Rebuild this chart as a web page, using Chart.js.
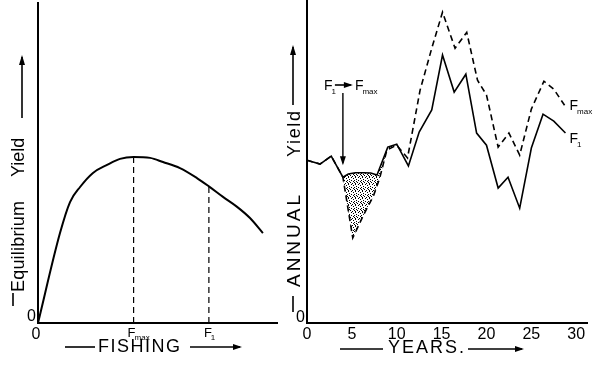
<!DOCTYPE html>
<html>
<head>
<meta charset="utf-8">
<script src="https://cdn.jsdelivr.net/npm/chart.js@4/dist/chart.umd.min.js"></script>
<style>
  html, body { margin: 0; padding: 0; background: #fff; }
  #wrap { position: relative; width: 600px; height: 370px; overflow: hidden; }
  #left { position: absolute; left: 0; top: 0; }
  #right { position: absolute; left: 270px; top: 0; }
</style>
</head>
<body>
<div id="wrap">
  <canvas id="left" width="290" height="370"></canvas>
  <canvas id="right" width="330" height="370"></canvas>
</div>
<script>
// left panel: equilibrium yield vs fishing
const fishing = [0, 0.92, 1.34, 1.76, 2.30, 2.89, 3.43, 4.0, 4.69, 5.23, 5.94, 6.65, 7.15, 7.74, 8.33, 8.87, 9.41]
const eqYield = [0, 2.81, 3.78, 4.25, 4.69, 4.94, 5.13, 5.19, 5.16, 5.03, 4.84, 4.53, 4.27, 3.94, 3.63, 3.28, 2.81]
const fmaxAt = 4.0
const f1At = 7.15

// right panel: annual yield over years
const yearsF1 = [0, 1.45, 2.7, 4.0, 4.6, 5.4, 6.3, 7.1, 7.8, 9.0, 10.0, 11.3, 12.5, 13.9, 15.1, 16.4, 17.7, 18.9, 20.0, 21.3, 22.4, 23.7, 25.0, 26.3, 27.5, 28.8]
const yieldF1 = [50.9, 49.7, 52.2, 45.6, 46.6, 47.0, 47.0, 46.9, 46.3, 55.0, 55.9, 49.1, 59.7, 66.6, 83.8, 72.2, 77.8, 59.4, 55.6, 42.2, 45.6, 35.9, 54.7, 65.3, 63.1, 59.4]
const yearsFmax = [0, 1.45, 2.7, 4.0, 5.1, 6.3, 7.4, 8.1, 8.9, 10.0, 11.2, 12.6, 13.9, 15.1, 16.5, 17.8, 19.0, 20.0, 21.3, 22.5, 23.7, 25.0, 26.4, 27.5, 28.7]
const yieldFmax = [50.9, 49.7, 52.2, 45.6, 26.6, 33.8, 39.7, 45.3, 54.1, 55.6, 51.6, 72.8, 85.9, 97.2, 85.9, 90.9, 75.9, 71.3, 55.0, 59.4, 52.5, 66.9, 75.6, 73.1, 68.1]
const yearTicks = [0, 5, 10, 15, 20, 25, 30]
const switchYear = 4.0

const FONT = "'Liberation Sans', Arial, sans-serif"

function pts(xs, ys) {
  return xs.map((x, i) => ({ x: x, y: ys[i] }))
}

function stipple() {
  const c = document.createElement("canvas")
  c.width = 7
  c.height = 7
  const g = c.getContext("2d")
  g.fillStyle = "#000"
  const dots = [[0, 0], [3, 0], [5, 1], [1, 2], [4, 2], [6, 3], [2, 4], [0, 5], [4, 5], [2, 6], [6, 6], [1, 1]]
  dots.forEach(([x, y]) => g.fillRect(x, y, 1, 1))
  return g.createPattern(c, "repeat")
}

// "F" with a small subscript
function drawF(ctx, x, y, sub, size) {
  ctx.save()
  ctx.fillStyle = "#000"
  ctx.textAlign = "left"
  ctx.textBaseline = "alphabetic"
  ctx.font = size + "px " + FONT
  ctx.fillText("F", x, y)
  const w = ctx.measureText("F").width
  ctx.font = Math.round(size * 0.6) + "px " + FONT
  ctx.fillText(sub, x + w - 1, y + size * 0.25)
  ctx.restore()
}

// text stretched by letter spacing to a given width
function fitText(ctx, text, size, width) {
  ctx.font = size + "px " + FONT
  ctx.letterSpacing = "0px"
  const w = ctx.measureText(text).width
  const sp = Math.max(0, (width - w) / (text.length - 1))
  ctx.letterSpacing = sp + "px"
}

function spaced(ctx, text, x, y, size, width) {
  ctx.save()
  ctx.fillStyle = "#000"
  fitText(ctx, text, size, width)
  ctx.textBaseline = "middle"
  ctx.textAlign = "left"
  ctx.fillText(text, x, y)
  ctx.restore()
}

function hline(ctx, x1, x2, y, head) {
  ctx.save()
  ctx.strokeStyle = "#000"
  ctx.fillStyle = "#000"
  ctx.lineWidth = 1.6
  ctx.beginPath()
  ctx.moveTo(x1, y)
  ctx.lineTo(x2, y)
  ctx.stroke()
  if (head) {
    ctx.beginPath()
    ctx.moveTo(x2 + 2, y)
    ctx.lineTo(x2 - 7, y - 3)
    ctx.lineTo(x2 - 7, y + 3)
    ctx.closePath()
    ctx.fill()
  }
  ctx.restore()
}

// vertical axis title: dash, words (y = bottom end of word), arrow going up
function vtitle(ctx, x, parts, dash, arrow) {
  ctx.save()
  ctx.fillStyle = "#000"
  ctx.strokeStyle = "#000"
  ctx.lineWidth = 1.6
  ctx.beginPath()
  ctx.moveTo(dash.x, dash.y1)
  ctx.lineTo(dash.x, dash.y2)
  ctx.stroke()
  parts.forEach(p => {
    ctx.save()
    ctx.translate(x, p.y)
    ctx.rotate(-Math.PI / 2)
    fitText(ctx, p.text, p.size, p.width)
    ctx.textAlign = "left"
    ctx.textBaseline = "middle"
    ctx.fillText(p.text, 0, 0)
    ctx.restore()
  })
  ctx.beginPath()
  ctx.moveTo(arrow.x, arrow.y1)
  ctx.lineTo(arrow.x, arrow.y2)
  ctx.stroke()
  ctx.beginPath()
  ctx.moveTo(arrow.x, arrow.y2 - 2)
  ctx.lineTo(arrow.x - 3, arrow.y2 + 8)
  ctx.lineTo(arrow.x + 3, arrow.y2 + 8)
  ctx.closePath()
  ctx.fill()
  ctx.restore()
}

const leftText = {
  id: "leftText",
  afterDraw(chart) {
    const ctx = chart.ctx
    const xs = chart.scales.x
    const ax = xs.getPixelForValue(fmaxAt)
    const bx = xs.getPixelForValue(f1At)
    drawF(ctx, ax - 6, 337, "max", 13)
    drawF(ctx, bx - 5, 337, "1", 13)
    hline(ctx, 65, 95, 347, false)
    spaced(ctx, "FISHING", 98, 347, 18, 82)
    hline(ctx, 190, 240, 347, true)
    vtitle(ctx, 19, [
      { text: "Equilibrium", y: 292, size: 18, width: 91 },
      { text: "Yield", y: 177, size: 18, width: 34 }
    ], { x: 13, y1: 293, y2: 306 }, { x: 22, y1: 118, y2: 57 })
  }
}

const rightText = {
  id: "rightText",
  afterDraw(chart) {
    const ctx = chart.ctx
    const xs = chart.scales.x
    const ys = chart.scales.y
    const off = 270
    hline(ctx, 340 - off, 383 - off, 349, false)
    spaced(ctx, "YEARS.", 388 - off, 348, 18, 76)
    hline(ctx, 468 - off, 522 - off, 349, true)
    vtitle(ctx, 295 - off, [
      { text: "ANNUAL", y: 287, size: 19, width: 92 },
      { text: "Yield", y: 157, size: 18, width: 46 }
    ], { x: 293 - off, y1: 296, y2: 312 }, { x: 293 - off, y1: 105, y2: 47 })

    // switch annotation
    const sx = xs.getPixelForValue(switchYear)
    drawF(ctx, sx - 19, 90, "1", 14)
    hline(ctx, sx - 8, sx + 8, 85, true)
    drawF(ctx, sx + 12, 90, "max", 14)
    ctx.save()
    ctx.strokeStyle = "#000"
    ctx.fillStyle = "#000"
    ctx.lineWidth = 1.4
    const tip = ys.getPixelForValue(yieldF1[yearsF1.indexOf(switchYear)]) - 14
    ctx.beginPath()
    ctx.moveTo(sx, 93)
    ctx.lineTo(sx, tip)
    ctx.stroke()
    ctx.beginPath()
    ctx.moveTo(sx, tip + 2)
    ctx.lineTo(sx - 3, tip - 7)
    ctx.lineTo(sx + 3, tip - 7)
    ctx.closePath()
    ctx.fill()
    ctx.restore()

    // series end labels
    const lastM = yearsFmax.length - 1
    const lastF = yearsF1.length - 1
    drawF(ctx, xs.getPixelForValue(yearsFmax[lastM]) + 5, ys.getPixelForValue(yieldFmax[lastM]) + 5, "max", 14)
    drawF(ctx, xs.getPixelForValue(yearsF1[lastF]) + 4, ys.getPixelForValue(yieldF1[lastF]) + 10, "1", 14)
  }
}

const tickFont = { family: FONT, size: 16 }
// fixed axis boxes so the plot area lands where the figure has it
const fitY = s => { s.width = 30; s.paddingTop = 0; s.paddingBottom = 0 }
const fitX = s => { s.height = 30; s.paddingLeft = 0; s.paddingRight = 0 }
const noGrid = { display: false, drawTicks: false }

new Chart(document.getElementById("left"), {
  type: "line",
  data: {
    datasets: [
      {
        data: pts(fishing, eqYield),
        borderColor: "#000",
        borderWidth: 2,
        pointRadius: 0,
        cubicInterpolationMode: "monotone"
      },
      {
        data: pts([fmaxAt, fmaxAt], [0, eqYield[fishing.indexOf(fmaxAt)]]),
        borderColor: "#000",
        borderWidth: 1.2,
        borderDash: [6, 4],
        pointRadius: 0
      },
      {
        data: pts([f1At, f1At], [0, eqYield[fishing.indexOf(f1At)]]),
        borderColor: "#000",
        borderWidth: 1.2,
        borderDash: [6, 4],
        pointRadius: 0
      }
    ]
  },
  options: {
    responsive: false,
    animation: false,
    layout: { padding: { left: 8, right: 13, top: 3, bottom: 17 } },
    plugins: { legend: { display: false }, tooltip: { enabled: false } },
    scales: {
      x: {
        type: "linear",
        min: 0,
        max: 10,
        grid: noGrid,
        border: { display: true, color: "#000", width: 2 },
        afterFit: fitX,
        afterBuildTicks: s => { s.ticks = [{ value: 0 }] },
        ticks: { color: "#000", font: tickFont, padding: 2, labelOffset: -2, maxRotation: 0 }
      },
      y: {
        min: 0,
        max: 10,
        grid: noGrid,
        border: { display: true, color: "#000", width: 2 },
        afterFit: fitY,
        afterBuildTicks: s => { s.ticks = [{ value: 0 }] },
        ticks: { color: "#000", font: tickFont, padding: 2, labelOffset: -6 }
      }
    }
  },
  plugins: [leftText]
})

new Chart(document.getElementById("right"), {
  type: "line",
  data: {
    datasets: [
      {
        data: pts(yearsF1, yieldF1),
        borderColor: "#000",
        borderWidth: 1.6,
        pointRadius: 0,
        tension: 0
      },
      {
        data: pts(yearsFmax, yieldFmax),
        borderColor: "#000",
        borderWidth: 1.6,
        borderDash: [6, 4],
        pointRadius: 0,
        tension: 0,
        fill: { target: 0, above: "rgba(0,0,0,0)", below: stipple() }
      }
    ]
  },
  options: {
    responsive: false,
    animation: false,
    layout: { padding: { left: 7, right: 13, top: 0, bottom: 17 } },
    plugins: { legend: { display: false }, tooltip: { enabled: false } },
    scales: {
      x: {
        type: "linear",
        min: 0,
        max: 31.2,
        grid: noGrid,
        border: { display: true, color: "#000", width: 2 },
        afterFit: fitX,
        afterBuildTicks: s => { s.ticks = yearTicks.map(v => ({ value: v })) },
        ticks: { color: "#000", font: tickFont, padding: 2, maxRotation: 0, autoSkip: false }
      },
      y: {
        min: 0,
        max: 101,
        grid: noGrid,
        border: { display: true, color: "#000", width: 2 },
        afterFit: fitY,
        afterBuildTicks: s => { s.ticks = [{ value: 0 }] },
        ticks: { color: "#000", font: tickFont, padding: 2, labelOffset: -5 }
      }
    }
  },
  plugins: [rightText]
})
</script>
</body>
</html>
